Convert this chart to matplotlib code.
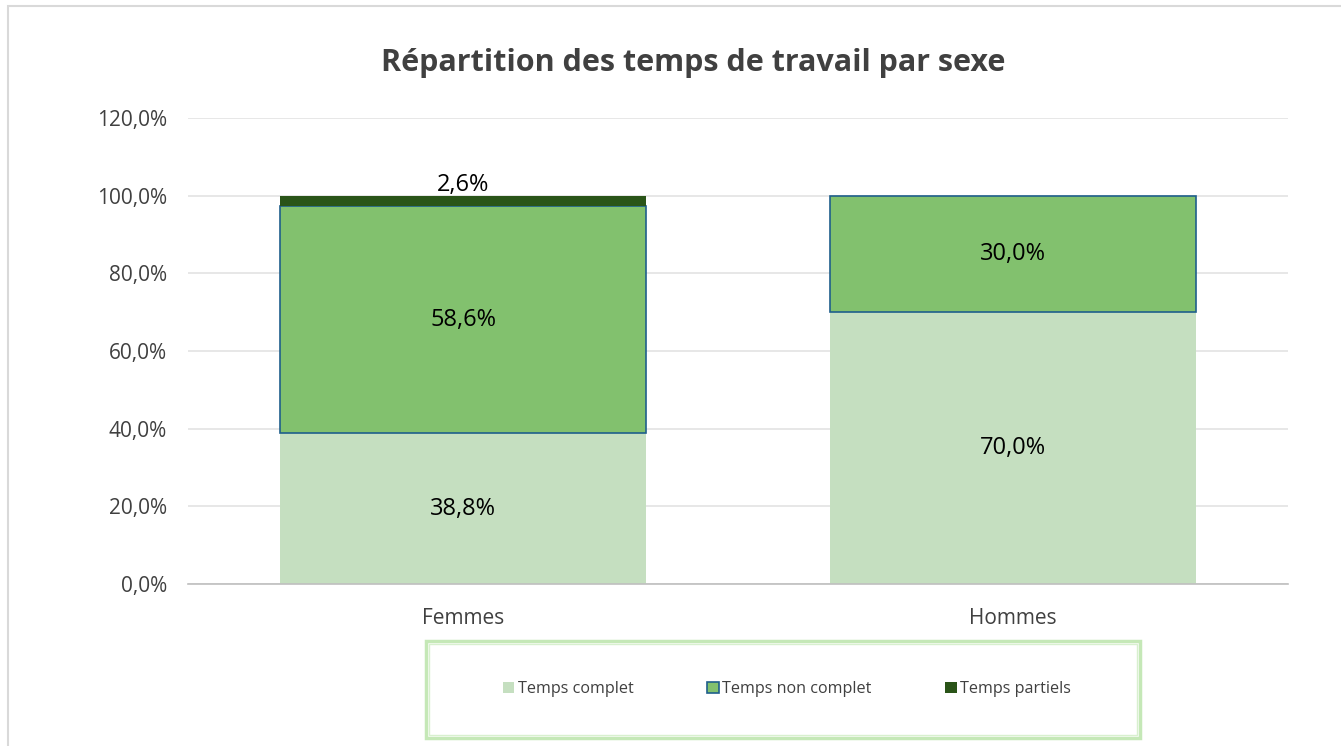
import matplotlib.pyplot as plt
from matplotlib.patches import Rectangle
from matplotlib.ticker import FuncFormatter

plt.rcParams["font.family"] = ["Open Sans", "DejaVu Sans"]

categories = ["Femmes", "Hommes"]
temps_complet = [38.8, 70.0]
temps_non_complet = [58.6, 30.0]
temps_partiels = [2.6, 0.0]

W, H = 1341, 746
fig = plt.figure(figsize=(W / 100, H / 100), dpi=100)

# outer chart border (cut by image on the right / bottom)
fig.patches.append(Rectangle((8 / W, -0.05), 1.1, (H - 6) / H + 0.05,
                             transform=fig.transFigure, fill=False,
                             edgecolor="#d9d9d9", linewidth=1.5))

ax = fig.add_axes([188 / W, 162 / H, 1100 / W, 466 / H])
x = range(len(categories))
width = 0.664

ax.bar(x, temps_complet, width, color="#c5dfc0", label="Temps complet")
ax.bar(x, temps_non_complet, width, bottom=temps_complet, color="#82c16e",
       edgecolor="#1f5f8b", linewidth=1.2, label="Temps non complet")
bottoms = [a + b for a, b in zip(temps_complet, temps_non_complet)]
ax.bar(x, temps_partiels, width, bottom=bottoms, color="#2a5418",
       label="Temps partiels")

def fmt(v):
    return f"{v:.1f}%".replace(".", ",")

for i in x:
    ax.text(i, temps_complet[i] / 2, fmt(temps_complet[i]), ha="center",
            va="center", fontsize=17)
    ax.text(i, temps_complet[i] + temps_non_complet[i] / 2,
            fmt(temps_non_complet[i]), ha="center", va="center", fontsize=17)
    if temps_partiels[i] > 0:
        ax.text(i, bottoms[i] + temps_partiels[i] - 0.3, fmt(temps_partiels[i]),
                ha="center", va="bottom", fontsize=17)

ax.set_xlim(-0.5, 1.5)
ax.set_ylim(0, 120)
ax.set_yticks(range(0, 121, 20))
ax.yaxis.set_major_formatter(FuncFormatter(lambda v, p: fmt(v)))
ax.set_xticks(list(x))
ax.set_xticklabels(categories)
ax.tick_params(axis="both", length=0, labelsize=15, colors="#404040")
ax.tick_params(axis="y", pad=15)
ax.tick_params(axis="x", pad=17)
ax.grid(axis="y", color="#e3e3e3", linewidth=1.2)
ax.set_axisbelow(True)
for s in ["top", "right", "left"]:
    ax.spines[s].set_visible(False)
ax.spines["bottom"].set_color("#bfbfbf")
ax.spines["bottom"].set_linewidth(1.2)

fig.text(693 / W, 1 - 63 / H, "Répartition des temps de travail par sexe",
         ha="center", va="center", fontsize=22, fontweight="bold",
         color="#404040")

# legend box
fig.patches.append(Rectangle((426 / W, 8 / H), 714 / W, 97 / H,
                             transform=fig.transFigure, fill=False,
                             edgecolor="#c5e8b7", linewidth=2.5))
fig.patches.append(Rectangle((429 / W, 11 / H), 708 / W, 91 / H,
                             transform=fig.transFigure, fill=False,
                             edgecolor="#d8f0cf", linewidth=1))
leg = fig.legend(loc="center left", bbox_to_anchor=(503 / W, 57 / H), ncol=3,
                 frameon=False, fontsize=11.6, handlelength=0.7,
                 handleheight=0.7, handletextpad=0.2, columnspacing=4.6,
                 borderpad=0, borderaxespad=0)
for t in leg.get_texts():
    t.set_color("#404040")

fig.savefig("out.png", dpi=100)
